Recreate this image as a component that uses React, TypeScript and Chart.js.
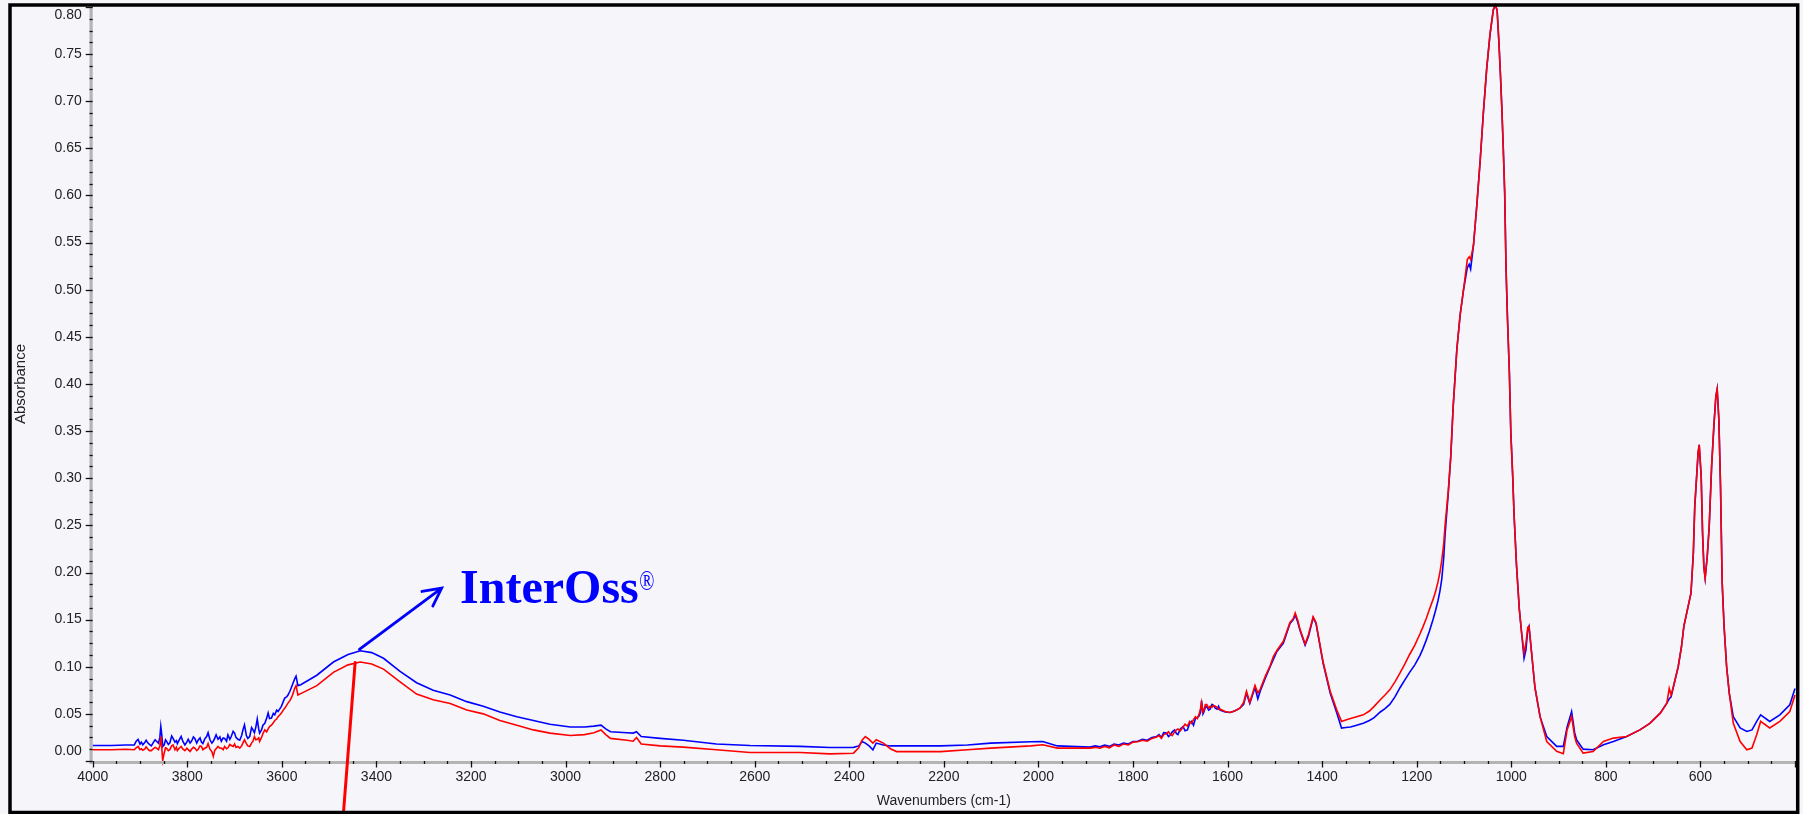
import React, { useEffect, useRef } from "react";
import { Chart, registerables } from "chart.js";

Chart.register(...registerables);

// ---------- DATA ----------
// Segment 1: O-H region, 4000-3560 cm-1
const OH_WN: number[] = [
  4000, 3960, 3930, 3912, 3908, 3904, 3900, 3897, 3894, 3890,
  3887, 3883, 3880, 3876, 3872, 3868, 3865, 3861, 3858, 3856,
  3854, 3852, 3849, 3846, 3844, 3840, 3837, 3833, 3830, 3826,
  3823, 3821, 3817, 3813, 3809, 3805, 3801, 3798, 3794, 3791,
  3787, 3784, 3780, 3777, 3773, 3770, 3767, 3763, 3759, 3756,
  3752, 3748, 3745, 3742, 3739, 3735, 3731, 3728, 3724, 3721,
  3717, 3714, 3710, 3707, 3703, 3700, 3697, 3693, 3689, 3685,
  3682, 3679, 3675, 3672, 3668, 3664, 3661, 3658, 3655, 3652,
  3649, 3647, 3643, 3640, 3636, 3632, 3629, 3626, 3622, 3618,
  3615, 3611, 3608, 3604, 3601, 3597, 3594, 3590, 3587, 3583,
  3579, 3576, 3573, 3570, 3566, 3560,
];
const OH_BLUE: number[] = [
  0.0165, 0.0165, 0.017, 0.017, 0.021, 0.023, 0.018, 0.02, 0.0172, 0.0195,
  0.022, 0.019, 0.0175, 0.016, 0.0195, 0.0225, 0.021, 0.019, 0.025, 0.0366,
  0.028, 0.0154, 0.017, 0.0225, 0.021, 0.0175, 0.019, 0.0265, 0.024, 0.02,
  0.0215, 0.0185, 0.0225, 0.026, 0.0205, 0.017, 0.02, 0.023, 0.019, 0.021,
  0.0255, 0.024, 0.019, 0.022, 0.0245, 0.02, 0.0185, 0.0235, 0.026, 0.03,
  0.0225, 0.019, 0.021, 0.024, 0.0278, 0.023, 0.0255, 0.021, 0.0245, 0.024,
  0.021, 0.0278, 0.023, 0.026, 0.0315, 0.0296, 0.025, 0.023, 0.022, 0.027,
  0.0335, 0.0384, 0.027, 0.024, 0.026, 0.0355, 0.033, 0.03, 0.036, 0.0445,
  0.034, 0.0296, 0.033, 0.038, 0.04, 0.0455, 0.051, 0.045, 0.0455, 0.0505,
  0.049, 0.054, 0.0525, 0.0555, 0.058, 0.063, 0.0667, 0.068, 0.07, 0.074,
  0.079, 0.083, 0.087, 0.09, 0.08, 0.081,
];
const OH_RED: number[] = [
  0.012, 0.012, 0.0125, 0.012, 0.014, 0.0154, 0.012, 0.013, 0.0115, 0.0125,
  0.015, 0.0125, 0.011, 0.011, 0.013, 0.0145, 0.0137, 0.012, 0.016, 0.026,
  0.015, 0.0005, 0.008, 0.014, 0.0137, 0.011, 0.012, 0.016, 0.017, 0.012,
  0.0145, 0.011, 0.0135, 0.0154, 0.0125, 0.011, 0.0135, 0.012, 0.01, 0.0125,
  0.0145, 0.0137, 0.011, 0.0125, 0.016, 0.0154, 0.012, 0.0135, 0.0145, 0.0185,
  0.0125, 0.01, 0.0048, 0.011, 0.013, 0.0155, 0.0135, 0.0137, 0.012, 0.0154,
  0.013, 0.014, 0.0175, 0.0165, 0.0155, 0.018, 0.0145, 0.0154, 0.0137, 0.016,
  0.0195, 0.0225, 0.0185, 0.016, 0.0154, 0.019, 0.021, 0.026, 0.0225, 0.023,
  0.0245, 0.0207, 0.025, 0.029, 0.033, 0.031, 0.034, 0.0366, 0.038, 0.0405,
  0.043, 0.0445, 0.047, 0.049, 0.051, 0.054, 0.056, 0.059, 0.0614, 0.064,
  0.068, 0.072, 0.077, 0.08, 0.07, 0.0715,
];

// Segment 2: 3526-1891 cm-1
const MID_WN: number[] = [
  3526, 3491, 3460, 3434, 3410, 3385, 3350, 3315, 3280, 3244,
  3209, 3174, 3139, 3103, 3068, 3033, 2990, 2960, 2940, 2925,
  2915, 2905, 2870, 2857, 2850, 2840, 2800, 2751, 2681, 2610,
  2504, 2441, 2391, 2380, 2373, 2366, 2358, 2350, 2343, 2328,
  2313, 2300, 2207, 2150, 2101, 2016, 1991, 1960, 1891,
];
const MID_BLUE: number[] = [
  0.091, 0.105, 0.113, 0.117, 0.115, 0.109, 0.095, 0.083, 0.075, 0.07,
  0.063, 0.058, 0.052, 0.047, 0.043, 0.039, 0.036, 0.036, 0.037, 0.038,
  0.034, 0.031, 0.03, 0.0296, 0.031, 0.026, 0.024, 0.022, 0.018, 0.0165,
  0.0155, 0.0143, 0.0145, 0.016, 0.0207, 0.019, 0.016, 0.0119, 0.019, 0.017,
  0.016, 0.016, 0.016, 0.017, 0.019, 0.0204, 0.0207, 0.016, 0.0147,
];
const MID_RED: number[] = [
  0.08, 0.094, 0.102, 0.105, 0.103, 0.0975, 0.084, 0.071, 0.065, 0.061,
  0.054, 0.05, 0.043, 0.038, 0.033, 0.0296, 0.027, 0.028, 0.03, 0.033,
  0.028, 0.024, 0.022, 0.021, 0.025, 0.018, 0.016, 0.0147, 0.012, 0.009,
  0.009, 0.0076, 0.0083, 0.014, 0.022, 0.026, 0.023, 0.019, 0.0225, 0.019,
  0.013, 0.01, 0.01, 0.012, 0.0137, 0.016, 0.0172, 0.0137, 0.0137,
];

// Segment 3: carbonate / water region, 1880-1359 cm-1
const CO3_WN: number[] = [
  1880, 1870, 1860, 1850, 1840, 1830, 1820, 1810, 1800, 1790,
  1780, 1770, 1760, 1750, 1745, 1740, 1735, 1729, 1725, 1722,
  1717, 1712, 1708, 1705, 1700, 1694, 1690, 1685, 1680, 1676,
  1672, 1668, 1664, 1660, 1657, 1655, 1652, 1650, 1647, 1644,
  1640, 1637, 1633, 1630, 1626, 1622, 1619, 1616, 1605, 1595,
  1585, 1574, 1566, 1560, 1553, 1542, 1536, 1531, 1520, 1510,
  1503, 1496, 1482, 1468, 1461, 1457, 1452, 1447, 1436, 1429,
  1419, 1413, 1408, 1398, 1383, 1369, 1359,
];
const CO3_BLUE: number[] = [
  0.016, 0.015, 0.017, 0.0155, 0.018, 0.017, 0.019, 0.018, 0.0207, 0.021,
  0.023, 0.022, 0.025, 0.026, 0.028, 0.025, 0.03, 0.0296, 0.026, 0.027,
  0.031, 0.033, 0.029, 0.028, 0.034, 0.0366, 0.032, 0.033, 0.04, 0.042,
  0.038, 0.045, 0.046, 0.048, 0.052, 0.064, 0.05, 0.052, 0.057, 0.058,
  0.054, 0.055, 0.06, 0.059, 0.056, 0.055, 0.058, 0.054, 0.052, 0.0515,
  0.053, 0.056, 0.06, 0.072, 0.061, 0.078, 0.066, 0.074, 0.088, 0.1,
  0.108, 0.116, 0.125, 0.146, 0.15, 0.155, 0.148, 0.139, 0.123, 0.132,
  0.152, 0.146, 0.132, 0.104, 0.072, 0.051, 0.035,
];
const CO3_RED: number[] = [
  0.0145, 0.0135, 0.0155, 0.014, 0.017, 0.0155, 0.018, 0.017, 0.02, 0.0205,
  0.022, 0.021, 0.024, 0.0255, 0.027, 0.024, 0.028, 0.029, 0.031, 0.029,
  0.027, 0.031, 0.033, 0.034, 0.032, 0.036, 0.039, 0.037, 0.042, 0.04,
  0.044, 0.047, 0.045, 0.05, 0.056, 0.062, 0.052, 0.054, 0.06, 0.06,
  0.056, 0.058, 0.057, 0.059, 0.058, 0.057, 0.055, 0.055, 0.0525, 0.0515,
  0.053, 0.056, 0.062, 0.074, 0.062, 0.08, 0.072, 0.076, 0.09, 0.101,
  0.111, 0.117, 0.127, 0.147, 0.151, 0.157, 0.15, 0.14, 0.124, 0.134,
  0.153, 0.147, 0.133, 0.105, 0.074, 0.054, 0.042,
];

// Segment 4: phosphate region, 1350-400 cm-1
const PO4_WN: number[] = [
  1350, 1340, 1327, 1313, 1300, 1290, 1277, 1267, 1257, 1246,
  1235, 1225, 1215, 1204, 1193, 1187, 1180, 1173, 1165, 1160,
  1155, 1151, 1147, 1143, 1140, 1133, 1128, 1123, 1115, 1108,
  1101, 1093, 1089, 1086, 1080, 1073, 1066, 1059, 1052, 1045,
  1038, 1034, 1030, 1026, 1023, 1020, 1017, 1014, 1011, 1008,
  1004, 1001, 997, 994, 989, 983, 978, 973, 969, 965,
  962.5, 957, 950, 939, 925, 904, 890, 882, 872.4, 866,
  862, 848, 827, 805, 784, 756, 728, 707, 685, 671,
  666, 662, 657, 647, 640, 635, 626, 620, 615, 612,
  608, 605, 602.6, 598.4, 595.5, 592.7, 590, 585.6, 581.4, 576.4,
  571.6, 567.4, 564.6, 561, 557.5, 554, 550, 544.6, 539, 530.5,
  516, 502, 491, 481, 472.7, 453.5, 432, 411, 400,
];
const PO4_BLUE: number[] = [
  0.0355, 0.036, 0.038, 0.04, 0.043, 0.046, 0.052, 0.0555, 0.06, 0.068,
  0.078, 0.086, 0.094, 0.102, 0.112, 0.119, 0.128, 0.138, 0.151, 0.16,
  0.17, 0.18, 0.193, 0.215, 0.24, 0.286, 0.323, 0.375, 0.4376, 0.474,
  0.5, 0.5235, 0.527, 0.522, 0.547, 0.589, 0.6356, 0.688, 0.7346, 0.771,
  0.797, 0.802, 0.797, 0.761, 0.729, 0.693, 0.651, 0.604, 0.521, 0.469,
  0.4115, 0.349, 0.302, 0.26, 0.208, 0.161, 0.135, 0.109, 0.118, 0.14,
  0.143, 0.1146, 0.078, 0.0468, 0.026, 0.0155, 0.0155, 0.036, 0.0525, 0.03,
  0.0225, 0.0126, 0.0119, 0.0172, 0.0207, 0.026, 0.033, 0.04, 0.0508, 0.0614,
  0.066, 0.068, 0.079, 0.1, 0.1215, 0.143, 0.164, 0.178, 0.2205, 0.27,
  0.302, 0.3266, 0.3355, 0.302, 0.242, 0.206, 0.194, 0.217, 0.249, 0.312,
  0.355, 0.3867, 0.3945, 0.362, 0.291, 0.189, 0.143, 0.1, 0.072, 0.047,
  0.035, 0.0313, 0.033, 0.042, 0.049, 0.042, 0.049, 0.0596, 0.077,
];
const PO4_RED: number[] = [
  0.0435, 0.045, 0.047, 0.049, 0.053, 0.058, 0.065, 0.07, 0.0755, 0.084,
  0.0937, 0.103, 0.113, 0.123, 0.135, 0.142, 0.151, 0.161, 0.172, 0.18,
  0.19, 0.2, 0.213, 0.23, 0.25, 0.288, 0.323, 0.375, 0.4376, 0.474,
  0.5, 0.532, 0.535, 0.532, 0.547, 0.589, 0.6356, 0.688, 0.7346, 0.771,
  0.797, 0.802, 0.797, 0.761, 0.729, 0.693, 0.651, 0.604, 0.521, 0.469,
  0.4115, 0.349, 0.302, 0.26, 0.208, 0.161, 0.135, 0.1146, 0.125, 0.142,
  0.143, 0.1146, 0.078, 0.0468, 0.0207, 0.0103, 0.0077, 0.033, 0.047, 0.026,
  0.019, 0.0084, 0.0101, 0.0207, 0.0243, 0.026, 0.033, 0.04, 0.0508, 0.0614,
  0.077, 0.07, 0.079, 0.1, 0.1215, 0.143, 0.164, 0.178, 0.2205, 0.27,
  0.302, 0.3266, 0.3355, 0.302, 0.242, 0.206, 0.194, 0.217, 0.249, 0.312,
  0.355, 0.3867, 0.3945, 0.362, 0.291, 0.189, 0.143, 0.1, 0.072, 0.04,
  0.0207, 0.0119, 0.0137, 0.0278, 0.042, 0.035, 0.042, 0.0525, 0.07,
];

const X_TICK_LABELS: number[] = [4000, 3800, 3600, 3400, 3200, 3000, 2800, 2600, 2400, 2200, 2000, 1800, 1600, 1400, 1200, 1000, 800, 600];
const Y_TICK_LABELS: string[] = [
  "0.00", "0.05", "0.10", "0.15", "0.20", "0.25", "0.30", "0.35", "0.40", "0.45", "0.50", "0.55", "0.60", "0.65", "0.70", "0.75", "0.80",
];

const X_TITLE = "Wavenumbers (cm-1)";
const Y_TITLE = "Absorbance";
const BRAND_TEXT = "InterOss";
const BRAND_MARK = "®";
// annotation anchors in data units [wavenumber, absorbance]
const BLUE_ARROW_FROM: [number, number] = [3436, 0.1185];
const BLUE_ARROW_TO: [number, number] = [3262, 0.1834];
const RED_POINTER_FROM: [number, number] = [3445, 0.1045];
const RED_POINTER_TO: [number, number] = [3470, -0.057];
const BRAND_AT: [number, number] = [3223, 0.1675];

const BG = "#F6F5FA";
const BLUE = "#0000FF";
const RED = "#FF0000";
const SANS = "'Liberation Sans', Arial, sans-serif";
const SERIF = "'Liberation Serif', 'Times New Roman', serif";

const omnicPlugin = {
  id: "omnicFrame",
  beforeDraw(chart: any) {
    const ctx = chart.ctx;
    ctx.save();
    ctx.fillStyle = BG;
    ctx.fillRect(0, 0, chart.width, chart.height);
    ctx.restore();
  },
  afterDraw(chart: any) {
    const ctx: CanvasRenderingContext2D = chart.ctx;
    const xs = chart.scales.x;
    const ys = chart.scales.y;
    const { left, right, top, bottom } = chart.chartArea;
    ctx.save();

    // axis bars
    ctx.fillStyle = "#B4B4B4";
    ctx.fillRect(left - 3.2, top, 3.2, bottom - top + 3);
    ctx.fillRect(left, bottom, right - left, 3);

    // y ticks
    ctx.strokeStyle = "#111";
    ctx.lineWidth = 1.3;
    for (let i = 0; i <= 64; i++) {
      const v = i * 0.0125;
      const py = Math.round(ys.getPixelForValue(v)) + 0.5;
      const major = i % 4 === 0;
      ctx.beginPath();
      ctx.moveTo(major ? left - 7 : left - 3.2, py);
      ctx.lineTo(left, py);
      ctx.stroke();
    }
    // x ticks
    for (let w = 400; w <= 4000; w += 50) {
      const px = Math.round(xs.getPixelForValue(w)) + 0.5;
      const major = w % 200 === 0;
      ctx.beginPath();
      ctx.moveTo(px, bottom);
      ctx.lineTo(px, major ? bottom + 6.5 : bottom + 3);
      ctx.stroke();
    }

    // y tick labels
    ctx.fillStyle = "#222";
    ctx.font = `14px ${SANS}`;
    ctx.textAlign = "right";
    ctx.textBaseline = "middle";
    for (const lab of Y_TICK_LABELS) {
      let py = ys.getPixelForValue(parseFloat(lab));
      py = Math.min(Math.max(py, top + 8.5), bottom - 9.5);
      ctx.fillText(lab, left - 11, py);
    }
    // x tick labels
    ctx.textAlign = "center";
    for (const w of X_TICK_LABELS) {
      const px = xs.getPixelForValue(w);
      ctx.fillText(String(w), Math.max(px, left - 3), bottom + 16.5);
    }
    // titles
    ctx.font = `14px ${SANS}`;
    ctx.fillText(X_TITLE, (left + right) / 2, bottom + 40);
    ctx.save();
    ctx.translate(21, (top + bottom) / 2);
    ctx.rotate(-Math.PI / 2);
    ctx.font = `15px ${SANS}`;
    ctx.fillText(Y_TITLE, 0, 0);
    ctx.restore();

    // blue arrow
    const bx0 = xs.getPixelForValue(BLUE_ARROW_FROM[0]);
    const by0 = ys.getPixelForValue(BLUE_ARROW_FROM[1]);
    const bx1 = xs.getPixelForValue(BLUE_ARROW_TO[0]);
    const by1 = ys.getPixelForValue(BLUE_ARROW_TO[1]);
    ctx.strokeStyle = BLUE;
    ctx.lineWidth = 2.8;
    ctx.lineCap = "round";
    ctx.beginPath();
    ctx.moveTo(bx0, by0);
    ctx.lineTo(bx1, by1);
    const ang = Math.atan2(by0 - by1, bx0 - bx1);
    const spread = (27 * Math.PI) / 180;
    const len = 20;
    ctx.moveTo(bx1 + len * Math.cos(ang + spread), by1 + len * Math.sin(ang + spread));
    ctx.lineTo(bx1, by1);
    ctx.lineTo(bx1 + len * Math.cos(ang - spread), by1 + len * Math.sin(ang - spread));
    ctx.stroke();

    // red pointer
    ctx.strokeStyle = RED;
    ctx.lineWidth = 3;
    ctx.beginPath();
    ctx.moveTo(xs.getPixelForValue(RED_POINTER_FROM[0]), ys.getPixelForValue(RED_POINTER_FROM[1]));
    ctx.lineTo(xs.getPixelForValue(RED_POINTER_TO[0]), ys.getPixelForValue(RED_POINTER_TO[1]));
    ctx.stroke();

    // brand label
    const tx = xs.getPixelForValue(BRAND_AT[0]);
    const ty = ys.getPixelForValue(BRAND_AT[1]);
    ctx.fillStyle = BLUE;
    ctx.textAlign = "left";
    ctx.textBaseline = "alphabetic";
    ctx.font = `bold 48px ${SERIF}`;
    ctx.fillText(BRAND_TEXT, tx, ty);
    const tw = ctx.measureText(BRAND_TEXT).width;
    ctx.save();
    ctx.translate(tx + tw + 0.5, ty - 13);
    ctx.scale(1, 1.4);
    ctx.font = `20px ${SERIF}`;
    ctx.fillText(BRAND_MARK, 0, 0);
    ctx.restore();

    // outer frame
    ctx.strokeStyle = "#000";
    ctx.lineWidth = 3.5;
    ctx.lineCap = "butt";
    ctx.strokeRect(10, 5, 1787.7, 807.5);
    ctx.restore();
  },
};

export default function App() {
  const canvasRef = useRef<HTMLCanvasElement | null>(null);

  useEffect(() => {
    const canvas = canvasRef.current;
    if (!canvas) return;
    const wn = [...OH_WN, ...MID_WN, ...CO3_WN, ...PO4_WN];
    const blueAbs = [...OH_BLUE, ...MID_BLUE, ...CO3_BLUE, ...PO4_BLUE];
    const redAbs = [...OH_RED, ...MID_RED, ...CO3_RED, ...PO4_RED];
    const red = wn.map((w, i) => ({ x: w, y: redAbs[i] }));
    const blue = wn.map((w, i) => ({ x: w, y: blueAbs[i] }));
    const chart = new Chart(canvas, {
      type: "line",
      data: {
        datasets: [
          { label: "Reference", data: red, borderColor: RED, borderWidth: 1.6, pointRadius: 0, tension: 0, fill: false, clip: false } as any,
          { label: "InterOss", data: blue, borderColor: BLUE, borderWidth: 1.6, pointRadius: 0, tension: 0, fill: false, clip: false } as any,
        ],
      },
      options: {
        responsive: false,
        maintainAspectRatio: false,
        devicePixelRatio: 1,
        animation: false,
        layout: { padding: { left: 92.7, right: 8, top: 7, bottom: 53 } },
        plugins: { legend: { display: false }, tooltip: { enabled: false } },
        events: [],
        scales: {
          x: { type: "linear", min: 400, max: 4000, reverse: true, display: false },
          y: { type: "linear", min: 0, max: 0.8, display: false },
        },
      },
      plugins: [omnicPlugin],
    });
    return () => chart.destroy();
  }, []);

  return (
    <div style={{ position: "fixed", left: 0, top: 0, width: 1803, height: 814, background: BG, overflow: "hidden" }}>
      <canvas ref={canvasRef} width={1803} height={814} style={{ display: "block", width: 1803, height: 814 }} />
    </div>
  );
}
